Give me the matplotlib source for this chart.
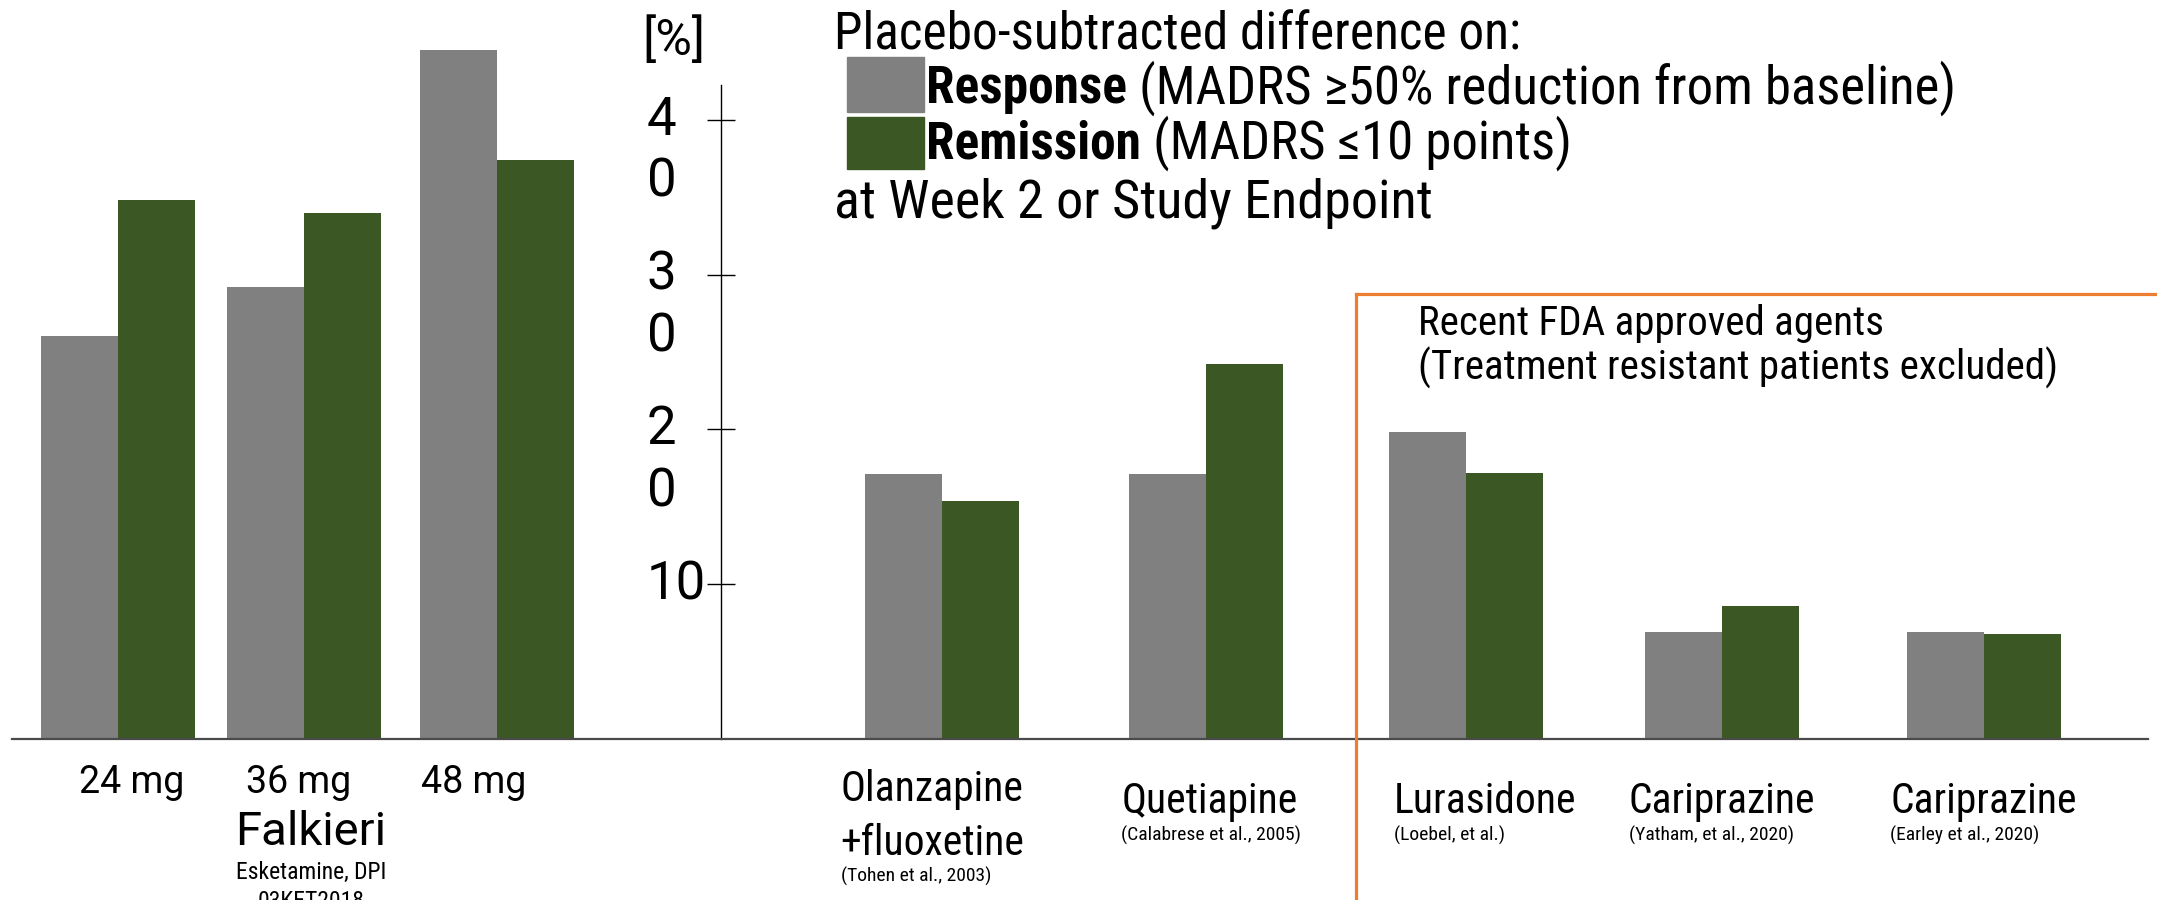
import matplotlib
matplotlib.use("Agg")
import matplotlib.pyplot as plt
import numpy as np
from matplotlib import font_manager
from matplotlib.patches import Rectangle
from matplotlib.transforms import ScaledTranslation

# data (placebo-subtracted difference, %)
groups = ["24 mg", "36 mg", "48 mg", "Olanzapine\n+fluoxetine", "Quetiapine",
          "Lurasidone", "Cariprazine", "Cariprazine"]
citations = ["", "", "", "(Tohen et al., 2003)", "(Calabrese et al., 2005)",
             "(Loebel, et al.)", "(Yatham, et al., 2020)", "(Earley et al., 2020)"]
response = [26.0, 29.2, 44.5, 17.1, 17.1, 19.8, 6.9, 6.9]
remission = [34.8, 34.0, 37.4, 15.4, 24.2, 17.2, 8.6, 6.8]
yticks = [10, 20, 30, 40]
ytick_labels = ["10", "2\n0", "3\n0", "4\n0"]

GRAY = "#808080"
GREEN = "#3B5724"
ORANGE = "#ED7D31"

names = {f.name for f in font_manager.fontManager.ttflist}
NARROW = next((n for n in ["Liberation Sans Narrow", "Roboto Condensed", "Open Sans Condensed",
                           "Liberation Sans"] if n in names), "DejaVu Sans")
WIDE = "Roboto" if "Roboto" in names else "DejaVu Sans"
NFAM = [NARROW, "DejaVu Sans"]

# layout is measured on a 1568 x 654 grid
W, H = 1568, 654
centers = np.array([0.855, 2.21, 3.61, 6.85, 8.77, 10.66, 12.52, 14.42])
bw = 0.56
y0, per = 537, 11.25  # pixel row of zero, pixels per unit


def fy(y):
    return 1 - y / H


fig = plt.figure(figsize=(21.57, 9), dpi=100)
ax = fig.add_axes([0, 0, 1, 1])
ax.set_xlim(0, W / 100)
ax.set_ylim(-(H - y0) / per, y0 / per)
ax.patch.set_alpha(0)

ax.bar(centers - bw / 2, response, bw, color=GRAY, zorder=2)
ax.bar(centers + bw / 2, remission, bw, color=GREEN, zorder=2)

ax.axhline(0, xmin=0.0055, xmax=0.996, color="#4a4a4a", lw=1.6, zorder=3)

for s in ["top", "right", "bottom"]:
    ax.spines[s].set_visible(False)
ax.spines["left"].set_position(("data", 5.24))
ax.spines["left"].set_bounds(0, (y0 - 62) / per)
ax.spines["left"].set_linewidth(1.0)
ax.set_xticks([])
ax.set_yticks(yticks)
ax.set_yticklabels(ytick_labels)
ax.tick_params(axis="y", direction="inout", length=20, width=1.0, pad=43.5,
               labelsize=38)
off = ScaledTranslation(0, 18 / 72, fig.dpi_scale_trans)
for t in ax.get_yticklabels():
    t.set_ha("left")
    t.set_va("top")
    t.set_family(WIDE)
    t.set_linespacing(1.28)
    t.set_transform(t.get_transform() + off)

# orange box around recent FDA approved agents
xo = 9.86
yo = (y0 - 214) / per
ax.plot([xo, xo], [ax.get_ylim()[0], yo], color=ORANGE, lw=2.3, zorder=5, clip_on=False)
ax.plot([xo, W / 100], [yo, yo], color=ORANGE, lw=2.3, zorder=5, clip_on=False)

# texts
fig.text(467 / W, fy(40), "[%]", family=WIDE, fontsize=36, va="baseline")
fig.text(606 / W, fy(36), "Placebo-subtracted difference on:", family=NFAM,
         fontsize=37, va="baseline")
fig.text(606 / W, fy(158), "at Week 2 or Study Endpoint", family=NFAM,
         fontsize=39, va="baseline")

fig.patches.append(Rectangle((616 / W, fy(81.4)), 55.5 / W, 40 / H, color=GRAY,
                             transform=fig.transFigure))
fig.patches.append(Rectangle((616 / W, fy(123)), 55.5 / W, 38 / H, color=GREEN,
                             transform=fig.transFigure))

bold1 = fig.text(673 / W, fy(75), "Response", family=NFAM, fontsize=37,
                 weight="bold", va="baseline")
bold2 = fig.text(673 / W, fy(115), "Remission", family=NFAM, fontsize=37,
                 weight="bold", va="baseline")
fig.canvas.draw()
r = fig.canvas.get_renderer()
for b, rest, y in [(bold1, " (MADRS \u226550% reduction from baseline)", 75),
                   (bold2, " (MADRS \u226410 points)", 115)]:
    x1 = b.get_window_extent(r).x1 / fig.bbox.width
    fig.text(x1, fy(y), rest, family=NFAM, fontsize=38, va="baseline")

fig.text(1031 / W, fy(276), "Recent FDA approved agents\n(Treatment resistant patients excluded)",
         family=NFAM, fontsize=29.5, va="baseline", linespacing=1.13)

# Falkieri dose labels
for lbl, x in zip(groups[:3], [96, 217, 344]):
    fig.text(x / W, fy(576), lbl, family=WIDE, fontsize=27, ha="center", va="baseline")
fig.text(226 / W, fy(614), "Falkieri", family=WIDE, fontsize=34,
         ha="center", va="baseline")
fig.text(226 / W, fy(639), "Esketamine, DPI", family=NFAM, fontsize=17,
         ha="center", va="baseline")
fig.text(226 / W, fy(660), "03KET2018", family=NFAM, fontsize=17,
         ha="center", va="baseline")

# comparator labels
for lbl, cit, x in zip(groups[3:], citations[3:], [611, 815, 1013, 1184, 1374]):
    nl = lbl.count("\n")
    yb = 591 + 30 * nl
    fig.text(x / W, fy(yb), lbl, family=NFAM, fontsize=30,
             va="baseline", linespacing=1.39)
    fig.text(x / W, fy(yb + 20), cit, family=NFAM, fontsize=14,
             va="baseline")

fig.savefig("out.png", dpi=100)
